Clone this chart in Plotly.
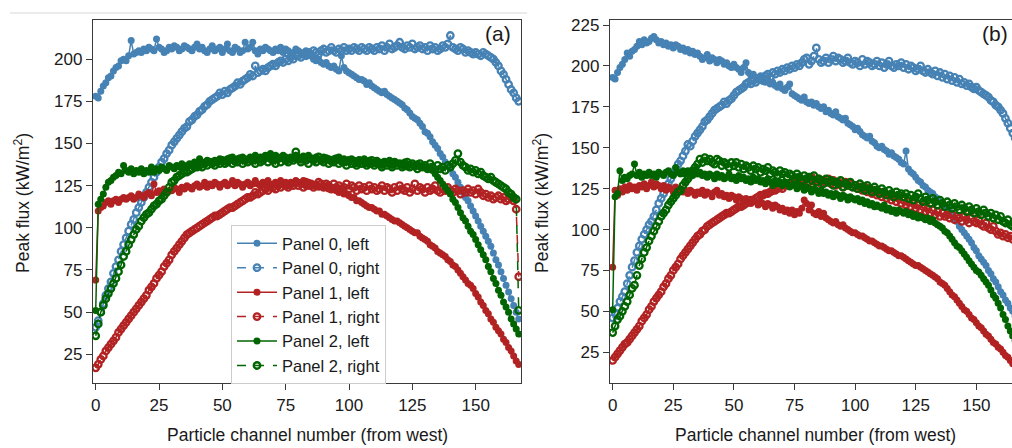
import plotly.graph_objects as go

# ---------------- data (peak flux, kW/m2, per particle channel) ----------------
a_p0_left = [
    178, 177, 181, 184, 186, 189, 190, 193, 195, 196,
    199, 200, 199, 202, 211, 203, 204, 205, 204, 206,
    205, 207, 206, 205, 212, 207, 206, 204, 205, 207,
    206, 208, 207, 205, 206, 208, 207, 206, 205, 207,
    209, 206, 207, 205, 204, 206, 208, 205, 206, 207,
    204, 206, 209, 205, 204, 207, 206, 204, 205, 210,
    206, 207, 210, 205, 203, 206, 205, 207, 206, 205,
    204, 206, 205, 207, 204, 206, 205, 203, 204, 206,
    205, 204, 203, 205, 202, 203, 200, 199, 200, 198,
    197, 198, 196, 195, 196, 194, 193, 202, 195, 193,
    192, 191, 190, 189, 188, 188, 187, 185, 186, 184,
    183, 182, 181, 180, 181, 179, 178, 177, 176, 175,
    174, 173, 171, 170, 168, 166, 165, 164, 162, 160,
    157, 156, 154, 151, 149, 147, 144, 142, 139, 137,
    135, 132, 130, 127, 124, 121, 118, 116, 113, 110,
    107, 104, 101, 98, 95, 92, 89, 85, 81, 78,
    74, 70, 66, 62, 58, 54, 50, 46]
a_p0_right = [
    41, 45, 50, 55, 60, 64, 68, 73, 77, 81,
    86, 90, 94, 98, 102, 105, 109, 112, 115, 118,
    121, 124, 127, 130, 133, 136, 139, 141, 144, 146,
    149, 151, 153, 155, 157, 159, 160, 163, 164, 166,
    167, 169, 170, 172, 173, 175, 176, 177, 178, 180,
    179, 181, 180, 182, 183, 184, 186, 185, 187, 188,
    189, 191, 190, 196, 192, 193, 194, 193, 195, 196,
    197, 196, 198, 199, 198, 200, 199, 201, 200, 202,
    202, 201, 203, 202, 204, 203, 205, 204, 203, 205,
    206, 204, 205, 207, 205, 204, 206, 205, 207, 205,
    206, 205, 207, 206, 205, 207, 206, 205, 207, 206,
    205, 207, 206, 208, 205, 207, 209, 206, 207, 208,
    210, 207, 206, 208, 207, 209, 206, 207, 208, 206,
    207, 205, 208, 206, 207, 205, 206, 208, 207, 209,
    214, 207, 206, 205, 207, 206, 204, 205, 204, 203,
    204, 203, 202, 204, 203, 202, 201, 200, 198, 196,
    193, 191, 188, 185, 182, 180, 177, 175]
a_p1_left = [
    69, 110, 112, 113, 115, 116, 114, 116, 117, 115,
    117, 118, 117, 118, 119, 117, 118, 120, 119, 118,
    120, 121, 119, 126, 121, 122, 120, 123, 121, 122,
    122, 124, 123, 121, 124, 123, 125, 124, 123, 125,
    126, 124, 125, 127, 124, 126, 125, 127, 126, 124,
    126, 127, 125, 126, 128, 125, 127, 126, 124, 126,
    127, 125, 126, 128, 126, 125, 127, 126, 128, 125,
    126, 127, 125, 128, 126, 127, 125, 127, 126, 128,
    127, 126, 128, 125, 127, 126, 125, 126, 124, 125,
    124, 125, 123, 124, 123, 122, 121, 122, 120, 120,
    119, 118, 118, 116, 116, 115, 114, 113, 112, 112,
    111, 110, 110, 108, 108, 107, 106, 105, 104, 104,
    103, 102, 101, 100, 99, 98, 97, 97, 95, 94,
    93, 92, 90, 89, 88, 86, 85, 84, 83, 81,
    80, 78, 77, 75, 73, 71, 69, 67, 66, 64,
    61, 59, 56, 54, 51, 49, 46, 44, 41, 39,
    37, 34, 32, 29, 27, 24, 21, 19]
a_p1_right = [
    17, 19, 22, 24, 27, 29, 31, 33, 35, 38,
    40, 42, 44, 46, 48, 50, 52, 54, 56, 58,
    60, 63, 65, 67, 70, 72, 74, 77, 79, 81,
    84, 86, 88, 90, 92, 94, 96, 97, 98, 99,
    100, 101, 102, 103, 104, 105, 106, 107, 107, 108,
    109, 110, 111, 112, 112, 113, 114, 115, 116, 117,
    118, 118, 119, 121, 120, 121, 122, 123, 122, 124,
    124, 123, 125, 124, 126, 125, 124, 126, 125, 127,
    125, 126, 124, 127, 125, 126, 124, 125, 127, 126,
    124, 126, 125, 123, 126, 124, 125, 123, 124, 126,
    123, 125, 124, 122, 125, 123, 124, 122, 125, 123,
    124, 122, 123, 125, 122, 124, 123, 121, 124, 122,
    125, 123, 122, 124, 121, 123, 126, 122, 124, 123,
    121, 124, 122, 123, 125, 122, 121, 123, 122, 124,
    122, 121, 123, 122, 120, 122, 121, 123, 121, 122,
    120, 123, 121, 119, 120, 118, 119, 117, 118, 119,
    117, 118, 116, 117, 118, 116, 111, 71]
a_p2_left = [
    51, 114, 117, 120, 124, 127, 128, 130, 131, 133,
    132, 137, 134, 133, 135, 132, 134, 133, 135, 132,
    134, 133, 136, 133, 135, 134, 136, 135, 134, 137,
    136, 135, 137, 136, 138, 137, 136, 138, 137, 139,
    138, 141, 139, 138, 140, 139, 138, 140, 139, 141,
    140, 139, 141, 140, 142, 139, 141, 140, 142, 141,
    140, 142, 141, 143, 140, 142, 141, 143, 142, 144,
    141, 143, 142, 141, 143, 142, 140, 142, 141, 143,
    142, 140, 142, 141, 143, 141, 140, 142, 141, 140,
    142, 140, 141, 139, 141, 140, 142, 139, 141, 140,
    139, 141, 140, 138, 140, 139, 141, 138, 140, 139,
    138, 140, 139, 137, 139, 138, 140, 137, 139, 138,
    138, 137, 139, 136, 138, 137, 136, 138, 136, 137,
    136, 135, 135, 134, 132, 130, 128, 126, 124, 122,
    120, 117, 115, 112, 109, 106, 104, 101, 98, 96,
    93, 90, 87, 84, 81, 77, 74, 70, 67, 63,
    60, 56, 53, 50, 46, 43, 40, 37]
a_p2_right = [
    36, 43, 50, 54, 58, 61, 64, 67, 70, 74,
    78, 83, 86, 90, 93, 96, 99, 101, 104, 106,
    108, 109, 111, 113, 114, 116, 117, 119, 121, 124,
    127, 128, 130, 131, 132, 133, 133, 134, 135, 136,
    136, 137, 136, 138, 137, 139, 138, 137, 139, 138,
    140, 138, 139, 141, 138, 140, 139, 141, 138, 140,
    139, 141, 140, 138, 141, 139, 140, 142, 139, 141,
    140, 138, 141, 139, 142, 140, 139, 141, 140, 145,
    141, 139, 142, 140, 138, 141, 140, 139, 142, 140,
    139, 141, 138, 140, 139, 141, 138, 140, 139, 137,
    140, 138, 139, 137, 140, 138, 139, 137, 138, 140,
    137, 139, 138, 136, 139, 137, 138, 136, 139, 137,
    138, 136, 137, 139, 136, 138, 137, 135, 138, 136,
    137, 135, 138, 136, 134, 137, 135, 136, 134, 137,
    136, 138, 140, 144, 139, 137, 136, 134, 135, 133,
    134, 132, 133, 131, 130, 129, 130, 128, 127, 126,
    125, 124, 123, 121, 120, 118, 117, 51]

b_p0_left = [
    193, 192, 196, 199, 201, 204, 208, 206, 209, 210,
    212, 215, 213, 216, 214, 215, 217, 218, 216, 214,
    215, 213, 214, 212, 213, 211, 213, 212, 210, 211,
    209, 210, 208, 209, 207, 208, 206, 204, 205, 207,
    203, 205, 204, 202, 204, 203, 201, 202, 200, 199,
    201, 199, 198, 196, 199, 202, 196, 194, 195, 193,
    192, 194, 191, 190, 192, 189, 190, 188, 187, 189,
    186, 185, 187, 189, 183, 182, 181, 180, 179, 181,
    178, 177, 178, 176, 177, 175, 174, 175, 172, 173,
    171, 170, 172, 169, 168, 167, 168, 165, 164, 163,
    161, 162, 160, 158, 157, 156, 157, 154, 153, 151,
    150, 151, 149, 148, 146, 147, 145, 144, 143, 141,
    140, 148, 137, 135, 134, 132, 130, 129, 127, 126,
    124, 123, 122, 120, 119, 117, 116, 114, 112, 111,
    109, 107, 105, 102, 100, 98, 96, 94, 92, 89,
    87, 84, 82, 80, 78, 75, 73, 70, 68, 65,
    62, 60, 57, 55, 52, 50, 47, 45]
b_p0_right = [
    46, 49, 52, 56, 59, 62, 67, 72, 77, 81,
    86, 90, 94, 97, 100, 103, 105, 108, 112, 116,
    119, 122, 125, 128, 131, 134, 137, 140, 142, 145,
    148, 152, 151, 154, 157, 159, 161, 163, 166, 167,
    169, 171, 173, 174, 175, 176, 178, 177, 179, 180,
    182, 184, 185, 186, 187, 189, 190, 189, 191, 190,
    192, 193, 191, 194, 195, 193, 196, 195, 197, 196,
    198, 197, 199, 198, 200, 199, 201, 200, 202, 204,
    205, 201, 203, 206, 211, 204, 202, 203, 205, 202,
    204, 206, 203, 205, 204, 202, 203, 205, 202, 201,
    203, 202, 200, 204, 201, 203, 202, 200, 201, 203,
    200, 202, 199, 201, 203, 200, 199, 201, 200, 202,
    199, 201, 198, 200, 199, 197, 198, 200, 197, 196,
    198, 196, 195, 197, 194, 196, 193, 195, 192, 194,
    191, 193, 190, 192, 189, 190, 188, 189, 187, 186,
    187, 185, 184, 183, 182, 181, 179, 178, 176, 175,
    173, 171, 168, 165, 162, 159, 156, 153]
b_p1_left = [
    77, 124, 121, 125, 123, 126, 124, 127, 125, 126,
    124, 127, 126, 128, 125, 127, 129, 126, 128, 127,
    125, 127, 124, 126, 125, 123, 126, 124, 125, 123,
    124, 122, 124, 123, 121, 123, 122, 124, 121, 123,
    122, 120, 123, 124, 121, 122, 120, 121, 119, 121,
    120, 118, 120, 119, 117, 119, 118, 116, 118, 117,
    115, 117, 116, 114, 116, 115, 113, 115, 114, 112,
    113, 111, 112, 110, 112, 109, 111, 110, 113, 118,
    116, 112, 115, 110, 109, 111, 108, 110, 107, 106,
    105, 104, 105, 103, 102, 103, 101, 100, 99, 98,
    98, 97, 96, 96, 95, 94, 93, 93, 92, 91,
    90, 90, 89, 88, 87, 87, 86, 85, 84, 84,
    83, 82, 81, 80, 79, 78, 78, 77, 76, 75,
    74, 73, 72, 71, 70, 68, 67, 66, 64, 62,
    60, 59, 57, 55, 53, 51, 50, 48, 46, 45,
    43, 41, 40, 38, 36, 35, 33, 31, 30, 28,
    27, 25, 23, 22, 20, 18, 17, 15]
b_p1_right = [
    20, 22, 24, 26, 28, 30, 31, 33, 35, 37,
    39, 41, 44, 46, 48, 51, 53, 56, 58, 60,
    62, 65, 67, 70, 72, 75, 77, 79, 82, 84,
    86, 88, 90, 92, 94, 96, 97, 99, 100, 102,
    103, 104, 105, 106, 107, 108, 109, 110, 110, 111,
    112, 113, 114, 114, 115, 116, 117, 118, 118, 119,
    120, 121, 121, 122, 122, 123, 124, 124, 125, 126,
    125, 127, 128, 127, 129, 130, 128, 131, 129, 130,
    131, 129, 132, 130, 129, 131, 128, 130, 129, 131,
    128, 130, 127, 129, 128, 126, 129, 127, 128, 126,
    127, 125, 126, 124, 126, 123, 125, 122, 124, 121,
    123, 120, 122, 119, 121, 118, 120, 117, 119, 116,
    118, 115, 117, 114, 116, 113, 115, 112, 114, 111,
    113, 110, 112, 109, 111, 108, 110, 108, 109, 107,
    109, 106, 108, 107, 105, 108, 106, 104, 107, 105,
    104, 106, 103, 102, 104, 101, 100, 102, 99, 97,
    98, 96, 97, 95, 96, 94, 95, 93]
b_p2_left = [
    51, 120, 122, 136, 130, 132, 131, 133, 134, 140,
    133, 135, 132, 134, 133, 135, 133, 134, 132, 135,
    134, 133, 135, 136, 134, 133, 138, 135, 134, 136,
    134, 136, 135, 133, 136, 134, 135, 133, 134, 132,
    134, 133, 131, 134, 132, 133, 131, 132, 134, 131,
    132, 130, 133, 131, 132, 130, 131, 129, 132, 130,
    131, 129, 130, 128, 131, 129, 127, 130, 128, 129,
    127, 129, 128, 126, 127, 128, 125, 127, 126, 124,
    126, 125, 123, 125, 124, 122, 124, 122, 123, 121,
    122, 120, 122, 121, 119, 121, 120, 118, 120, 119,
    118, 119, 117, 118, 116, 117, 115, 116, 114, 115,
    114, 113, 115, 112, 113, 111, 112, 110, 112, 111,
    110, 111, 109, 110, 108, 109, 107, 108, 107, 106,
    107, 105, 106, 104, 103, 102, 101, 99, 98, 96,
    94, 92, 90, 89, 87, 85, 83, 81, 79, 77,
    75, 74, 72, 70, 68, 66, 63, 60, 58, 55,
    52, 48, 45, 41, 38, 35, 32, 30]
b_p2_right = [
    37, 41, 45, 47, 50, 53, 56, 60, 64, 66,
    72, 78, 82, 86, 89, 93, 96, 99, 102, 105,
    108, 110, 112, 115, 117, 119, 121, 123, 124, 127,
    129, 131, 133, 136, 138, 140, 143, 141, 144, 142,
    143, 141, 140, 143, 142, 139, 141, 140, 138, 141,
    139, 141, 138, 140, 137, 139, 138, 136, 139, 137,
    138, 135, 137, 136, 138, 134, 136, 135, 133, 136,
    134, 135, 132, 134, 133, 131, 134, 132, 130, 133,
    131, 132, 130, 133, 129, 131, 130, 128, 131, 129,
    130, 127, 129, 128, 130, 126, 128, 127, 129, 126,
    127, 125, 128, 126, 124, 127, 125, 123, 126, 124,
    122, 125, 123, 121, 124, 122, 120, 123, 121, 122,
    120, 122, 119, 121, 118, 120, 122, 119, 117, 120,
    118, 116, 119, 117, 115, 118, 116, 114, 117, 115,
    113, 116, 114, 112, 115, 113, 111, 114, 112, 110,
    113, 111, 109, 112, 110, 108, 110, 107, 109, 106,
    108, 105, 104, 106, 103, 102, 104, 101]

series_names = ["Panel 0, left", "Panel 0, right", "Panel 1, left",
                "Panel 1, right", "Panel 2, left", "Panel 2, right"]
panel_a = [a_p0_left, a_p0_right, a_p1_left, a_p1_right, a_p2_left, a_p2_right]
panel_b = [b_p0_left, b_p0_right, b_p1_left, b_p1_right, b_p2_left, b_p2_right]
x_ticks = [0, 25, 50, 75, 100, 125, 150]
y_ticks_a = [25, 50, 75, 100, 125, 150, 175, 200]
y_ticks_b = [25, 50, 75, 100, 125, 150, 175, 200, 225]

# ---------------- styling ----------------
colors = ["#4682B4", "#4682B4", "#B22222", "#B22222", "#006400", "#006400"]
FONT = "Liberation Sans, Arial, Helvetica, sans-serif"
AX = "#3a3a3a"
TXT = "#1a1a1a"

fig = go.Figure()
for panel_idx, (panel, xa, ya) in enumerate([(panel_a, "x", "y"), (panel_b, "x2", "y2")]):
    for i, vals in enumerate(panel):
        right = (i % 2 == 1)
        fig.add_trace(go.Scatter(
            x=list(range(len(vals))), y=vals, xaxis=xa, yaxis=ya,
            mode="lines+markers", name=series_names[i],
            showlegend=(panel_idx == 0),
            line=dict(color=colors[i], width=1.5, dash="dash" if right else "solid"),
            marker=dict(symbol="circle-open" if right else "circle", size=6.5 if right else 7,
                        color=colors[i], line=dict(color=colors[i], width=2.3 if right else 0)),
        ))

W, H = 1012, 448
L, R, T, B = 93, 0, 20, 65
pw, ph = W - L - R, H - T - B

def px_x(p):
    return (p - L) / pw

def px_y(p):
    return (H - B - p) / ph

axis_common = dict(showline=True, linecolor=AX, linewidth=1.3, ticks="outside",
                   ticklen=6, tickwidth=1.3, tickcolor=AX, showgrid=False, zeroline=False,
                   tickfont=dict(family=FONT, size=17, color=TXT))

fig.update_layout(
    width=W, height=H, margin=dict(l=L, r=R, t=T, b=B),
    paper_bgcolor="white", plot_bgcolor="white",
    font=dict(family=FONT, size=16, color=TXT),
    xaxis=dict(domain=[0, px_x(521)], range=[-1.07, 167.9], tickvals=x_ticks,
               mirror=True, anchor="y", **axis_common),
    yaxis=dict(domain=[0, 1], range=[8, 223.2], tickvals=y_ticks_a,
               mirror=True, anchor="x", **axis_common),
    xaxis2=dict(domain=[px_x(610), 1], range=[-1.1, 164.7], tickvals=x_ticks,
                mirror=True, anchor="y2", **axis_common),
    yaxis2=dict(domain=[0, 1], range=[6.2, 228.1], tickvals=y_ticks_b,
                mirror=False, anchor="x2", **axis_common),
    legend=dict(x=px_x(231), y=px_y(225), xanchor="left", yanchor="top",
                bgcolor="white", bordercolor="#cccccc", borderwidth=1,
                font=dict(family=FONT, size=16.5, color=TXT),
                itemwidth=40, tracegroupgap=0),
    showlegend=True,
)

ann_font = dict(family=FONT, size=17.5, color=TXT)
annotations = [
    dict(text="Peak flux (kW/m<sup>2</sup>)", x=px_x(22), y=px_y(203), xref="paper", yref="paper",
         textangle=-90, showarrow=False, xanchor="center", yanchor="middle", font=ann_font),
    dict(text="Peak flux (kW/m<sup>2</sup>)", x=px_x(541), y=px_y(203), xref="paper", yref="paper",
         textangle=-90, showarrow=False, xanchor="center", yanchor="middle", font=ann_font),
    dict(text="Particle channel number (from west)", x=px_x(307), y=px_y(435), xref="paper",
         yref="paper", showarrow=False, xanchor="center", yanchor="middle", font=ann_font),
    dict(text="Particle channel number (from west)", x=px_x(815), y=px_y(435), xref="paper",
         yref="paper", showarrow=False, xanchor="center", yanchor="middle", font=ann_font),
    dict(text="(a)", x=px_x(513), y=px_y(34), xref="paper", yref="paper", showarrow=False,
         xanchor="right", yanchor="middle", font=dict(family=FONT, size=21, color=TXT)),
    dict(text="(b)", x=px_x(1010), y=px_y(34), xref="paper", yref="paper", showarrow=False,
         xanchor="right", yanchor="middle", font=dict(family=FONT, size=21, color=TXT)),
]
fig.update_layout(annotations=annotations)

fig.add_shape(type="line", xref="paper", yref="paper", x0=px_x(10), x1=px_x(527),
              y0=px_y(13), y1=px_y(13), line=dict(color="#d6d6d6", width=1))

fig.write_html("out.html", config={"displayModeBar": False},
               post_script="document.body.style.margin='0';document.body.style.overflow='hidden';")
